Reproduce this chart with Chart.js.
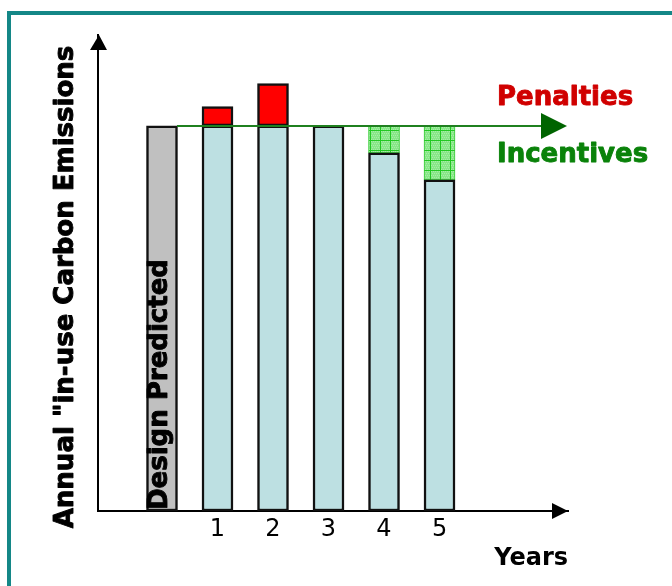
<!DOCTYPE html>
<html>
<head>
<meta charset="utf-8">
<script src="https://cdn.jsdelivr.net/npm/chart.js@4/dist/chart.umd.min.js"></script>
<style>
  html, body { margin: 0; padding: 0; background: #fff; }
  canvas { display: block; }
</style>
</head>
<body>
<canvas id="c" width="672" height="586"></canvas>
<script>
// ---- data ----
const categories = ['Design Predicted', '1', '2', '3', '4', '5'];
const yearLabels = ['1', '2', '3', '4', '5'];
const designPredicted = 100;
const actualEmissions = [105, 111, 100, 93, 86];
const yAxisTitle = 'Annual "in-use Carbon Emissions';
const xAxisTitle = 'Years';
const penaltyLabel = 'Penalties';
const incentiveLabel = 'Incentives';

// ---- hatch pattern for incentives ----
function makeHatch() {
  const pc = document.createElement('canvas');
  pc.width = 10; pc.height = 10;
  const p = pc.getContext('2d');
  p.fillStyle = '#88e688';
  p.fillRect(0, 0, 10, 10);
  p.fillStyle = '#a6efa6';
  for (let y = 1; y < 10; y += 2) for (let x = 1 + (y % 4 === 1 ? 0 : 1); x < 10; x += 2) p.fillRect(x, y, 1, 1);
  p.fillStyle = '#22c822';
  p.fillRect(0, 0, 10, 1);
  p.fillRect(0, 0, 1, 10);
  return p.createPattern(pc, 'repeat');
}
const hatch = makeHatch();

const designIndex = 0;
const baseData = actualEmissions.map((v, i) => ({ x: i + 1, y: [0, Math.min(v, designPredicted)] }));
const designData = [{ x: designIndex, y: [0, designPredicted] }];
const penaltyData = actualEmissions.map((v, i) => ({ x: i + 1, y: [designPredicted, v] })).filter(d => d.y[1] > d.y[0]);
const incentiveData = actualEmissions.map((v, i) => ({ x: i + 1, y: [v, designPredicted] })).filter(d => d.y[1] > d.y[0]);

const BOLD = 'bold 26px "DejaVu Sans"';

function heavyText(c, text, x, y, color) {
  c.fillStyle = color;
  c.strokeStyle = color;
  c.lineWidth = 0.9;
  c.lineJoin = 'round';
  c.fillText(text, x, y);
  c.strokeText(text, x, y);
}

const decor = {
  id: 'decor',
  beforeDraw(chart) {
    const c = chart.ctx;
    c.save();
    c.fillStyle = '#fff';
    c.fillRect(0, 0, chart.width, chart.height);
    c.strokeStyle = '#148787';
    c.lineWidth = 4;
    c.strokeRect(9, 13, 720, 640);
    c.restore();
  },
  afterDatasetsDraw(chart) {
    const c = chart.ctx;
    const xs = chart.scales.x, ys = chart.scales.y;
    const a = chart.chartArea;
    const yDesign = ys.getPixelForValue(designPredicted);
    const xStart = xs.getPixelForValue(designIndex) + 15;
    c.save();
    // design level arrow
    c.strokeStyle = '#1f801f';
    c.lineWidth = 2;
    c.beginPath();
    c.moveTo(xStart, yDesign);
    c.lineTo(a.right - 25, yDesign);
    c.stroke();
    c.fillStyle = '#006400';
    c.beginPath();
    c.moveTo(a.right - 27, yDesign - 13);
    c.lineTo(a.right - 1, yDesign);
    c.lineTo(a.right - 27, yDesign + 13);
    c.closePath();
    c.fill();
    // axis arrowheads
    c.fillStyle = '#000';
    c.beginPath();
    c.moveTo(a.left - 8, a.top + 15);
    c.lineTo(a.left + 1, a.top);
    c.lineTo(a.left + 9, a.top + 15);
    c.closePath();
    c.fill();
    c.beginPath();
    c.moveTo(a.right - 16, a.bottom - 8);
    c.lineTo(a.right, a.bottom);
    c.lineTo(a.right - 16, a.bottom + 8);
    c.closePath();
    c.fill();
    // labels
    c.font = BOLD;
    c.textAlign = 'left';
    c.textBaseline = 'alphabetic';
    heavyText(c, penaltyLabel, 497, 105, '#d00000');
    heavyText(c, incentiveLabel, 497, 162, '#0a820a');
    // design predicted (inside grey bar)
    c.save();
    c.translate(xs.getPixelForValue(designIndex) + 5, ys.getPixelForValue(0) - 1);
    c.rotate(-Math.PI / 2);
    heavyText(c, categories[designIndex], 0, 0, '#000');
    c.restore();
    // y axis title
    c.save();
    c.translate(73, 287);
    c.rotate(-Math.PI / 2);
    c.textAlign = 'center';
    heavyText(c, yAxisTitle, 0, 0, '#000');
    c.restore();
    c.restore();
  }
};

new Chart(document.getElementById('c'), {
  type: 'bar',
  data: {
    datasets: [
      { label: 'Actual', data: baseData, backgroundColor: '#bde0e2', borderColor: '#111', borderWidth: 2.5,
        borderSkipped: false, grouped: false, barThickness: 31, order: 0 },
      { label: 'Design Predicted', data: designData, backgroundColor: '#c0c0c0', borderColor: '#111', borderWidth: 2.5,
        borderSkipped: false, grouped: false, barThickness: 31, order: 1 },
      { label: penaltyLabel, data: penaltyData, backgroundColor: '#ff0000', borderColor: '#111', borderWidth: 2.5,
        borderSkipped: false, grouped: false, barThickness: 31, order: 2 },
      { label: incentiveLabel, data: incentiveData, backgroundColor: hatch, borderColor: '#33cc33', borderWidth: 1,
        borderSkipped: false, grouped: false, barThickness: 31, order: 3 }
    ]
  },
  options: {
    responsive: false,
    animation: false,
    events: [],
    layout: { padding: { left: 0, top: 35, right: 104, bottom: 0 } },
    plugins: { legend: { display: false }, tooltip: { enabled: false } },
    scales: {
      x: {
        type: 'linear',
        offset: false,
        min: -1.153,
        max: 7.315,
        grid: { display: false, drawTicks: false, offset: false },
        border: { display: true, color: '#000', width: 2 },
        afterBuildTicks: s => { s.ticks = yearLabels.map((_, i) => ({ value: i + 1 })); },
        ticks: {
          autoSkip: false, maxRotation: 0, padding: 4, color: '#000',
          font: { family: 'DejaVu Sans', size: 24 },
          callback: v => yearLabels[v - 1]
        },
        title: {
          display: true, text: xAxisTitle, align: 'end', color: '#000',
          font: { family: 'DejaVu Sans', size: 24, weight: 'bold' },
          padding: { top: 0, bottom: 13 }
        },
        afterFit: s => { s.height = 75; }
      },
      y: {
        type: 'linear',
        min: 0,
        max: 123.6,
        grid: { display: false, drawTicks: false },
        border: { display: true, color: '#000', width: 2 },
        ticks: { display: false },
        afterFit: s => { s.width = 98; }
      }
    }
  },
  plugins: [decor]
});
</script>
</body>
</html>
